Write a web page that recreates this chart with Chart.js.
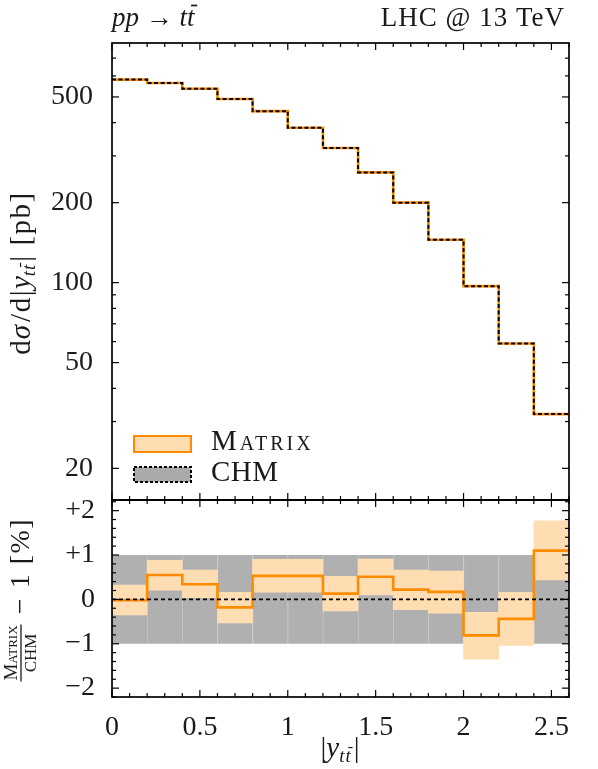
<!DOCTYPE html>
<html>
<head>
<meta charset="utf-8">
<script src="https://cdn.jsdelivr.net/npm/chart.js@4.4.1/dist/chart.umd.min.js"></script>
<style>
html, body { margin: 0; padding: 0; background: #fff; }
#wrap { position: relative; width: 598px; height: 769px; }
#wrap canvas { position: absolute; left: 0; top: 0; }
</style>
</head>
<body>
<div id="wrap">
    <canvas id="graphTop" width="598" height="769"></canvas>
    <canvas id="graphRatio" width="598" height="769"></canvas>
</div>
<script>
// bins in |y_ttbar|
var binEdges = [0, 0.2, 0.4, 0.6, 0.8, 1.0, 1.2, 1.4, 1.6, 1.8, 2.0, 2.2, 2.4, 2.6];

// dsigma/d|y| [pb]
var matrixXsec = [581, 564, 537, 491, 442, 383, 321, 260, 200, 145, 97, 59, 32];
var chmXsec    = [581, 564, 537, 491, 442, 383, 321, 260, 200, 145, 97, 59, 32];

// ratio to CHM - 1 [%]
var matrixRatio   = [-0.02, 0.55, 0.34, -0.18, 0.53, 0.53, 0.13, 0.51, 0.22, 0.17, -0.81, -0.44, 1.10];
var matrixRatioLo = [-0.35, 0.21, 0.04, -0.53, 0.16, 0.16, -0.26, 0.10, -0.23, -0.31, -1.35, -1.04, 0.44];
var matrixRatioHi = [0.32, 0.88, 0.66, 0.16, 0.90, 0.90, 0.52, 0.91, 0.66, 0.64, -0.29, 0.16, 1.77];
var chmRatio      = [0, 0, 0, 0, 0, 0, 0, 0, 0, 0, 0, 0, 0];
var chmRatioLo    = [-1, -1, -1, -1, -1, -1, -1, -1, -1, -1, -1, -1, -1];
var chmRatioHi    = [1, 1, 1, 1, 1, 1, 1, 1, 1, 1, 1, 1, 1];

// tick labels
var xsecTicks = [20, 50, 100, 200, 500];
var xsecTickLabels = ['20', '50', '100', '200', '500'];
var ratioTicks = [-2, -1, 0, 1, 2];
var ratioTickLabels = ['\u22122', '\u22121', '0', '+1', '+2'];
var xTicks = [0, 0.5, 1, 1.5, 2, 2.5];
var xTickLabels = ['0', '0.5', '1', '1.5', '2', '2.5'];

var SERIF = "'Liberation Serif', 'DejaVu Serif', serif";
var ORANGE = '#ff8c00';
var ORANGE_FILL = '#ffddb3';
var GREY = '#b0b0b0';
var INK = '#1a1a1a';

function stepPoints(values) {
    var pts = [];
    for (var i = 0; i < values.length; i++) {
        pts.push({ x: binEdges[i], y: values[i] });
    }
    pts.push({ x: binEdges[values.length], y: values[values.length - 1] });
    return pts;
}

function bandBars(lo, hi) {
    var out = [];
    for (var i = 0; i < lo.length; i++) {
        out.push({ x: (binEdges[i] + binEdges[i + 1]) / 2, y: [lo[i], hi[i]] });
    }
    return out;
}

function tickRange(a, b, step) {
    var out = [];
    for (var v = a; v <= b + 1e-9; v += step) out.push(Math.round(v * 1000) / 1000);
    return out;
}

// inward ticks on all four sides + frame, matplotlib style
var frameTicks = {
    id: 'frameTicks',
    afterDraw: function (chart, args, opts) {
        var ctx = chart.ctx, a = chart.chartArea;
        var xs = chart.scales.x, ys = chart.scales.y;
        ctx.save();
        ctx.strokeStyle = '#000';
        ctx.lineWidth = 1.2;
        function seg(x1, y1, x2, y2) {
            ctx.beginPath(); ctx.moveTo(x1, y1); ctx.lineTo(x2, y2); ctx.stroke();
        }
        opts.xMinor.forEach(function (v) {
            var len = opts.xMajor.indexOf(v) >= 0 ? 7 : 4;
            var px = xs.getPixelForValue(v);
            seg(px, a.top, px, a.top + len);
            seg(px, a.bottom, px, a.bottom - len);
        });
        opts.yMinor.forEach(function (v) {
            var len = opts.yMajor.indexOf(v) >= 0 ? 7 : 4;
            var py = ys.getPixelForValue(v);
            seg(a.left, py, a.left + len, py);
            seg(a.right, py, a.right - len, py);
        });
        ctx.lineWidth = 1.7;
        ctx.strokeRect(a.left, a.top, a.right - a.left, a.bottom - a.top);
        ctx.restore();
    }
};

function fontOf(r) {
    return (r.it ? 'italic ' : '') + (r.sc ? 'small-caps ' : '') + r.size + 'px ' + SERIF;
}

// draws a row of text pieces (italic, subscript, overbar ...) one after another
function drawRuns(ctx, runs, x, y, align) {
    var w = 0;
    runs.forEach(function (r) {
        ctx.font = fontOf(r);
        ctx.letterSpacing = (r.ls || 0) + 'px';
        w += ctx.measureText(r.t).width + (r.gap || 0);
    });
    var cx = align === 'center' ? x - w / 2 : (align === 'right' ? x - w : x);
    ctx.textAlign = 'left';
    ctx.textBaseline = 'alphabetic';
    runs.forEach(function (r) {
        ctx.font = fontOf(r);
        ctx.letterSpacing = (r.ls || 0) + 'px';
        var tw = ctx.measureText(r.t).width;
        var by = y + (r.dy || 0);
        ctx.fillText(r.t, cx, by);
        if (r.bar) {
            ctx.lineWidth = Math.max(1, r.size / 16);
            ctx.beginPath();
            ctx.moveTo(cx + r.size * 0.15, by - r.size * 0.76);
            ctx.lineTo(cx + tw + r.size * 0.1, by - r.size * 0.76);
            ctx.stroke();
        }
        cx += tw + (r.gap || 0);
    });
    ctx.letterSpacing = '0px';
    return w;
}

// header, axis titles and legend
var annotations = {
    id: 'annotations',
    afterDraw: function (chart) {
        var ctx = chart.ctx;
        var labA = chart.data.datasets[0].label, labB = chart.data.datasets[1].label;
        ctx.save();
        ctx.fillStyle = INK;
        ctx.strokeStyle = INK;

        drawRuns(ctx, [
            { t: 'pp', it: true, size: 27 },
            { t: ' \u2192 ', size: 27 },
            { t: 't', it: true, size: 27 },
            { t: 't', it: true, size: 27, bar: true }
        ], 112, 26, 'left');
        drawRuns(ctx, [{ t: 'LHC @ 13 TeV', size: 27, ls: 1 }], 565, 26, 'right');

        // top y title
        ctx.save();
        ctx.translate(30, 273);
        ctx.rotate(-Math.PI / 2);
        drawRuns(ctx, [
            { t: 'd', size: 29, ls: 1 },
            { t: '\u03c3', it: true, size: 29, gap: 3 },
            { t: '/d|', size: 29, ls: 1.5 },
            { t: 'y', it: true, size: 29 },
            { t: 't', it: true, size: 19, dy: 5, ls: 1 },
            { t: 't', it: true, size: 19, dy: 5, bar: true, gap: 3 },
            { t: '| [pb]', size: 29, ls: 1.5 }
        ], 0, 0, 'center');
        ctx.restore();

        // ratio y title: Matrix/CHM - 1 [%]
        ctx.save();
        ctx.translate(21, 599);
        ctx.rotate(-Math.PI / 2);
        var fc = -54;
        var numW = drawRuns(ctx, [{ t: labA, sc: true, size: 19 }], fc, -4, 'center');
        drawRuns(ctx, [{ t: labB, size: 17 }], fc, 15, 'center');
        ctx.lineWidth = 1.3;
        ctx.beginPath();
        ctx.moveTo(fc - numW / 2 - 1, 0);
        ctx.lineTo(fc + numW / 2 + 1, 0);
        ctx.stroke();
        drawRuns(ctx, [{ t: '\u2212 1 [%]', size: 28, ls: 1.5 }], 33, 8, 'center');
        ctx.restore();

        // x title
        drawRuns(ctx, [
            { t: '|', size: 29 },
            { t: 'y', it: true, size: 29 },
            { t: 't', it: true, size: 19, dy: 5, ls: 1 },
            { t: 't', it: true, size: 19, dy: 5, bar: true, gap: 3 },
            { t: '|', size: 29 }
        ], 340, 757, 'center');

        // legend
        ctx.fillStyle = ORANGE_FILL;
        ctx.fillRect(134, 436, 57, 16);
        ctx.strokeStyle = ORANGE;
        ctx.lineWidth = 2;
        ctx.strokeRect(134, 436, 57, 16);
        ctx.fillStyle = '#aaaaaa';
        ctx.fillRect(134, 467, 57, 15);
        ctx.strokeStyle = '#000';
        ctx.setLineDash([3, 2]);
        ctx.strokeRect(134, 467, 57, 15);
        ctx.setLineDash([]);
        ctx.fillStyle = INK;
        drawRuns(ctx, [{ t: labA, sc: true, size: 29, ls: 3 }], 211, 450, 'left');
        drawRuns(ctx, [{ t: labB, size: 29, ls: 0.5 }], 211, 481, 'left');
        ctx.restore();
    }
};

function showGraphXsec() {
    var chartdata = {
        datasets: [{
            label: 'Matrix',
            data: stepPoints(matrixXsec),
            borderColor: ORANGE,
            borderWidth: 2.6,
            stepped: 'before',
            pointRadius: 0,
            order: 1
        }, {
            label: 'CHM',
            data: stepPoints(chmXsec),
            borderColor: '#000',
            borderWidth: 2,
            borderDash: [4, 2.5],
            stepped: 'before',
            pointRadius: 0,
            order: 0
        }]
    };

    new Chart(document.getElementById('graphTop'), {
        type: 'line',
        data: chartdata,
        options: {
            responsive: false,
            animation: false,
            devicePixelRatio: 1,
            layout: { padding: { top: 43, bottom: 269, left: 0, right: 29 } },
            plugins: {
                legend: { display: false },
                tooltip: { enabled: false },
                frameTicks: {
                    xMajor: xTicks,
                    xMinor: tickRange(0, 2.6, 0.1),
                    yMajor: xsecTicks,
                    yMinor: [20, 30, 40, 50, 60, 70, 80, 90, 100, 200, 300, 400, 500, 600, 700]
                }
            },
            scales: {
                x: {
                    type: 'linear', min: 0, max: 2.6,
                    grid: { display: false },
                    border: { display: false },
                    ticks: { display: false },
                    afterFit: function (s) { s.height = 0; }
                },
                y: {
                    type: 'logarithmic', min: 15.2, max: 798,
                    grid: { display: false },
                    border: { display: false },
                    afterBuildTicks: function (s) {
                        s.ticks = xsecTicks.map(function (v) { return { value: v }; });
                    },
                    ticks: {
                        autoSkip: false,
                        padding: 11,
                        color: INK,
                        font: { family: SERIF, size: 28 },
                        callback: function (v) { return xsecTickLabels[xsecTicks.indexOf(v)]; }
                    },
                    afterFit: function (s) { s.width = 112; }
                }
            }
        },
        plugins: [frameTicks, annotations]
    });
}

function showGraphRatio() {
    var chartdata = {
        datasets: [{
            type: 'line',
            label: 'CHM ratio',
            data: stepPoints(chmRatio),
            borderColor: '#000',
            borderWidth: 1.8,
            borderDash: [4, 3],
            stepped: 'before',
            pointRadius: 0,
            order: 0
        }, {
            type: 'line',
            label: 'Matrix ratio',
            data: stepPoints(matrixRatio),
            borderColor: ORANGE,
            borderWidth: 2.6,
            stepped: 'before',
            pointRadius: 0,
            order: 1
        }, {
            type: 'bar',
            label: 'Matrix band',
            data: bandBars(matrixRatioLo, matrixRatioHi),
            backgroundColor: ORANGE_FILL,
            borderWidth: 0,
            grouped: false,
            barPercentage: 1,
            categoryPercentage: 1,
            order: 2
        }, {
            type: 'bar',
            label: 'CHM band',
            data: bandBars(chmRatioLo, chmRatioHi),
            backgroundColor: GREY,
            borderColor: '#c4c4c4',
            borderWidth: { left: 1, right: 0, top: 0, bottom: 0 },
            borderSkipped: false,
            grouped: false,
            barPercentage: 1,
            categoryPercentage: 1,
            order: 3
        }]
    };

    new Chart(document.getElementById('graphRatio'), {
        type: 'bar',
        data: chartdata,
        options: {
            responsive: false,
            animation: false,
            devicePixelRatio: 1,
            layout: { padding: { top: 500, bottom: 0, left: 0, right: 29 } },
            plugins: {
                legend: { display: false },
                tooltip: { enabled: false },
                frameTicks: {
                    xMajor: xTicks,
                    xMinor: tickRange(0, 2.6, 0.1),
                    yMajor: ratioTicks,
                    yMinor: tickRange(-2.2, 2.2, 0.2)
                }
            },
            scales: {
                x: {
                    type: 'linear', min: 0, max: 2.6, offset: false,
                    grid: { display: false, offset: false },
                    border: { display: false },
                    afterBuildTicks: function (s) {
                        s.ticks = xTicks.map(function (v) { return { value: v }; });
                    },
                    ticks: {
                        autoSkip: false,
                        maxRotation: 0,
                        padding: 6,
                        color: INK,
                        font: { family: SERIF, size: 28 },
                        callback: function (v) { return xTickLabels[xTicks.indexOf(v)]; }
                    },
                    afterFit: function (s) { s.height = 72; }
                },
                y: {
                    type: 'linear', min: -2.2, max: 2.24,
                    grid: { display: false },
                    border: { display: false },
                    afterBuildTicks: function (s) {
                        s.ticks = ratioTicks.map(function (v) { return { value: v }; });
                    },
                    ticks: {
                        autoSkip: false,
                        padding: 9,
                        color: INK,
                        font: { family: SERIF, size: 28 },
                        callback: function (v) { return ratioTickLabels[ratioTicks.indexOf(v)]; }
                    },
                    afterFit: function (s) { s.width = 112; }
                }
            }
        },
        plugins: [frameTicks]
    });
}

showGraphXsec();
showGraphRatio();
</script>
</body>
</html>
